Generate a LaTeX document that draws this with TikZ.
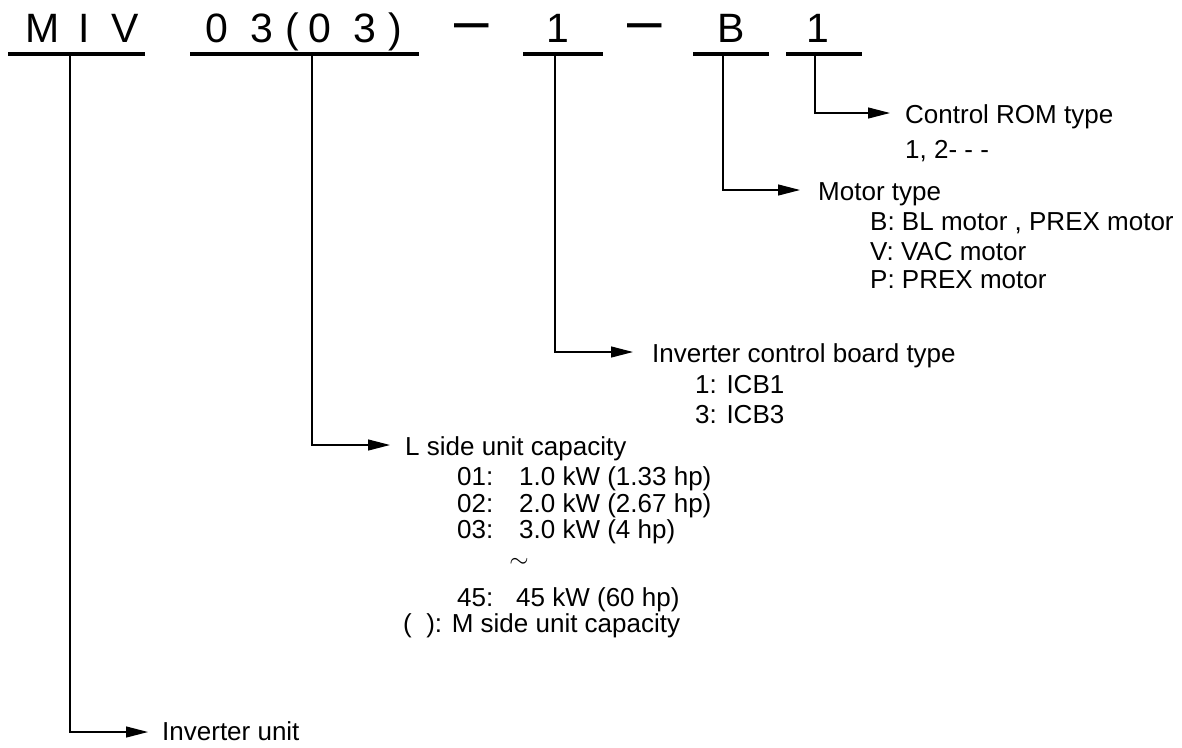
\documentclass[tikz,border=0pt]{standalone}
\usepackage{fontspec}
\setmainfont{Liberation Sans}
\usetikzlibrary{arrows.meta}
\begin{document}
\begin{tikzpicture}[x=1pt,y=-1pt,
  code/.style={font=\fontsize{41}{41}\selectfont, inner sep=0pt, anchor=base},
  dashc/.style={font=\fontsize{62}{62}\selectfont, inner sep=0pt, anchor=base},
  lab/.style={font=\fontsize{26}{30}\selectfont, inner sep=0pt, anchor=base west},
  uline/.style={line width=4pt},
  conn/.style={line width=1.2pt, -{Triangle[length=22pt,width=11pt]}}]
\useasboundingbox (0,0) rectangle (1182,747);
% code characters
\node[code] (cM) at (43,42) {M};
\node[code] (cI) at (84,42) {I};
\node[code] (cV) at (125,42) {V};
\node[code] (c0a) at (217,42) {0};
\node[code] (c3a) at (262,42) {3};
\node[code] (cpl) at (292,42) {(};
\node[code] (c0b) at (320,42) {0};
\node[code] (c3b) at (365,42) {3};
\node[code] (cpr) at (395,42) {)};
\node[dashc] (d1) at (472,41) {–};
\node[code] (c1) at (558,42) {1};
\node[dashc] (d2) at (645,41) {–};
\node[code] (cB) at (731,42) {B};
\node[code] (c1b) at (818,42) {1};
% underlines
\draw[uline] (8,54) -- (145,54);
\draw[uline] (190,54) -- (419,54);
\draw[uline] (523,54) -- (603,54);
\draw[uline] (693,54) -- (769,54);
\draw[uline] (786,54) -- (862,54);
\coordinate (s1) at (70,54);
\coordinate (s2) at (312,54);
\coordinate (s3) at (555,54);
\coordinate (s4) at (723,54);
\coordinate (s5) at (815,54);
% labels
\node[lab] (rom) at (905,123) {Control ROM type};
\node[lab] (rom1) at (905,158) {1, 2- - -};
\node[lab] (mot) at (818,200) {Motor type};
\node[lab] (motB) at (870,230) {B: BL motor , PREX motor};
\node[lab] (motV) at (870,260) {V: VAC motor};
\node[lab] (motP) at (870,288) {P: PREX motor};
\node[lab] (icb) at (652,362) {Inverter control board type};
\node[lab] (icb1) at (695,393) {1: ICB1};
\node[lab] (icb3) at (695,423) {3: ICB3};
\node[lab] (cap) at (405,455) {L side unit capacity};
\node[lab] (k01) at (457,485) {01:};
\node[lab] (v01) at (519,485) {1.0 kW (1.33 hp)};
\node[lab] (k02) at (457,512) {02:};
\node[lab] (v02) at (519,512) {2.0 kW (2.67 hp)};
\node[lab] (k03) at (457,538) {03:};
\node[lab] (v03) at (519,538) {3.0 kW (4 hp)};
\node[font=\fontsize{26}{30}\selectfont, inner sep=0pt] (tl) at (519,563) {$\sim$};
\node[lab] (k45) at (457,606) {45:};
\node[lab] (v45) at (516,606) {45 kW (60 hp)};
\node[lab] (mcap) at (403,632) {(\ \ ): M side unit capacity};
\node[lab] (inv) at (162,740) {Inverter unit};
% connectors
\draw[conn] (s5) |- ([xshift=-15pt,yshift=10pt]rom.base west);
\draw[conn] (s4) |- ([xshift=-18pt,yshift=10pt]mot.base west);
\draw[conn] (s3) |- ([xshift=-19pt,yshift=10pt]icb.base west);
\draw[conn] (s2) |- ([xshift=-15pt,yshift=10pt]cap.base west);
\draw[conn] (s1) |- ([xshift=-14pt,yshift=8pt]inv.base west);
\end{tikzpicture}
\end{document}
